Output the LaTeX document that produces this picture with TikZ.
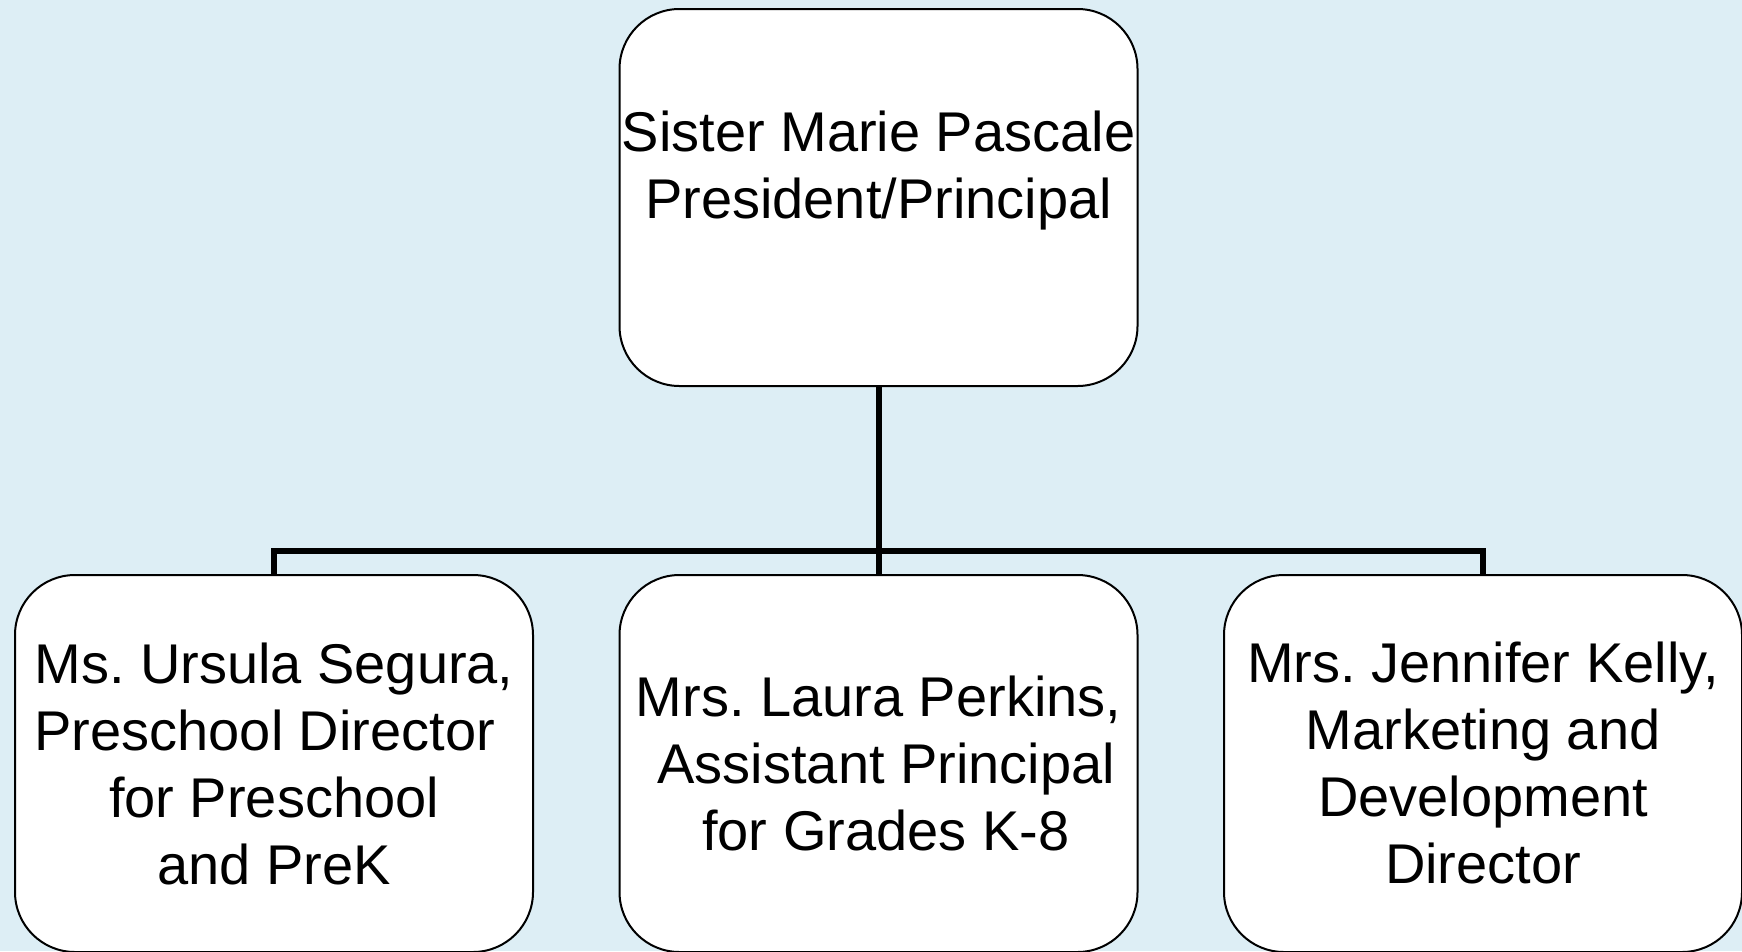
\documentclass[tikz,border=0pt]{standalone}
\usepackage{fontspec}
\setmainfont{Liberation Sans}
\frenchspacing
\definecolor{bgblue}{RGB}{221,238,245}
\tikzset{
  orgbox/.style={draw=black, line width=2pt, fill=white, rounded corners=60pt,
    minimum width=518pt, minimum height=377pt, inner sep=0pt, outer sep=0pt},
  lbl/.style={align=center, font=\fontsize{56}{67}\selectfont\frenchspacing, inner sep=0pt, anchor=base},
  conn/.style={draw=black, line width=6pt, line join=miter}
}
\begin{document}
\begin{tikzpicture}[x=1pt,y=-1pt]
  \useasboundingbox (0,0) rectangle (1742,951);
  \fill[bgblue] (0,0) rectangle (1742,951);

  \node[orgbox] (top) at (878.5,197.5) {};
  \node[orgbox] (left) at (274,763.5) {};
  \node[orgbox] (mid) at (878.5,763.5) {};
  \node[orgbox] (right) at (1483,763.5) {};

  \coordinate (bus) at (878.5,551);
  \draw[conn] (top.south) -- (mid.north);
  \draw[conn] (left.north) |- (bus) -| (right.north);

  \node[lbl] (toptext) at (878.5,218) {Sister Marie Pascale\\President/Principal};
  \node[lbl] (lefttext) at (274,884) {Ms. Ursula Segura,\\\mbox{Preschool Director\kern0.33em}\\for Preschool\\and PreK};
  \node[lbl] (midtext) at (878.5,850) {Mrs. Laura Perkins,\\\mbox{\kern0.278em Assistant Principal}\\\mbox{\kern0.26em for Grades K-8}};
  \node[lbl] (righttext) at (1483,883) {Mrs. Jennifer Kelly,\\Marketing and\\Development\\Director};
\end{tikzpicture}
\end{document}
